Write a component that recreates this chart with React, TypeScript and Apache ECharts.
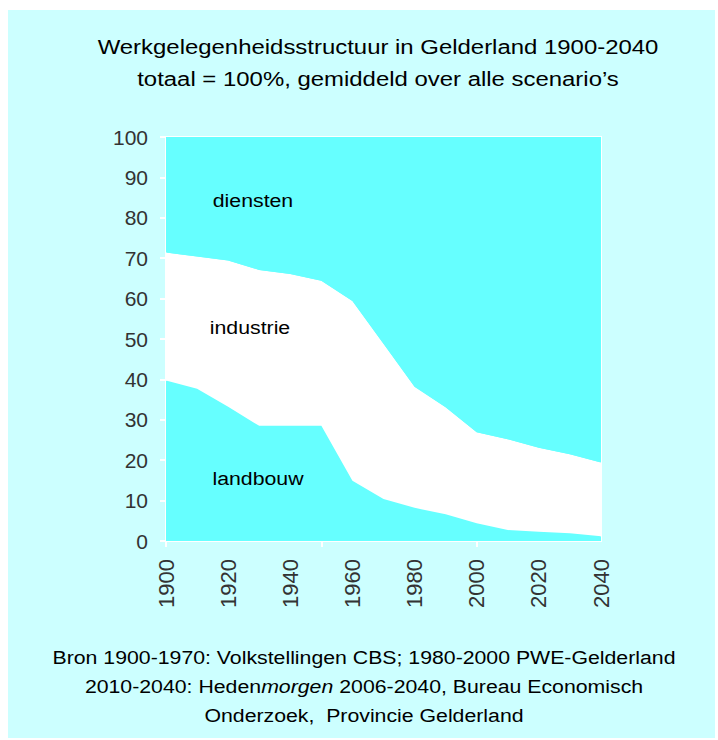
import React, { useEffect, useRef } from "react";
import * as echarts from "echarts";

const years = ["1900", "1910", "1920", "1930", "1940", "1950", "1960", "1970", "1980", "1990", "2000", "2010", "2020", "2030", "2040"];
const landbouw = [39.7, 37.7, 33.2, 28.5, 28.5, 28.5, 14.9, 10.4, 8.2, 6.6, 4.4, 2.7, 2.3, 1.9, 1.2];
const industrie = [31.7, 32.7, 36.2, 38.6, 37.6, 35.9, 44.5, 38.4, 30.0, 26.5, 22.5, 22.5, 20.8, 19.6, 18.2];
const diensten = [28.6, 29.6, 30.6, 32.9, 33.9, 35.6, 40.6, 51.2, 61.8, 66.9, 73.1, 74.8, 76.9, 78.5, 80.6];
const seriesNames = ["landbouw", "industrie", "diensten"];
const titleLines = ["Werkgelegenheidsstructuur in Gelderland 1900-2040", "totaal = 100%, gemiddeld over alle scenario\u2019s"];

const FONT = "'Liberation Sans', Arial, Helvetica, sans-serif";
const CYAN = "#66ffff";

export default function App() {
  const ref = useRef<HTMLDivElement>(null);
  useEffect(() => {
    document.body.style.margin = "0";
    if (!ref.current) return;
    const chart = echarts.init(ref.current, null, { renderer: "svg" });
    const mk = (name: string, data: number[], color: string) => ({
      name,
      type: "line",
      stack: "total",
      data,
      showSymbol: false,
      symbol: "none",
      lineStyle: { width: 0 },
      areaStyle: { color, opacity: 1 },
      silent: true,
    });
    const label = (text: string, x: number, y: number) => ({
      type: "text",
      x,
      y,
      scaleX: 1.12,
      z: 10,
      style: { text, font: `19px ${FONT}`, fill: "#000", align: "center", verticalAlign: "middle" },
    });
    chart.setOption({
      animation: false,
      backgroundColor: "transparent",
      grid: {
        left: 166,
        right: 117,
        top: 137,
        bottom: 199,
        show: true,
        backgroundColor: CYAN,
        borderColor: "#ffffff",
        borderWidth: 2,
      },
      xAxis: {
        type: "category",
        data: years,
        boundaryGap: false,
        axisLine: { show: true, lineStyle: { color: "#ffffff", width: 2 } },
        axisTick: {
          show: true,
          length: 6,
          lineStyle: { color: "#ffffff", width: 2 },
          interval: (i: number) => i % 5 === 0,
        },
        axisLabel: {
          rotate: 90,
          margin: 18,
          fontFamily: FONT,
          fontSize: 22,
          color: "#333333",
          interval: (i: number) => i % 2 === 0,
        },
        splitLine: { show: false },
      },
      yAxis: {
        type: "value",
        min: 0,
        max: 100,
        interval: 10,
        axisLine: { show: true, lineStyle: { color: "#ffffff", width: 2 } },
        axisTick: { show: true, length: 6, lineStyle: { color: "#ffffff", width: 2 } },
        axisLabel: { margin: 18, fontFamily: FONT, fontSize: 21, color: "#333333" },
        splitLine: { show: false },
      },
      series: [
        mk(seriesNames[0], landbouw, CYAN),
        mk(seriesNames[1], industrie, "#ffffff"),
        mk(seriesNames[2], diensten, CYAN),
      ],
      graphic: [
        {
          type: "text",
          x: 378,
          y: 31,
          scaleX: 1.14,
          z: 10,
          style: {
            text: titleLines.join("\n"),
            font: `21px ${FONT}`,
            lineHeight: 32,
            fill: "#000",
            align: "center",
            verticalAlign: "top",
          },
        },
        label(seriesNames[2], 253, 200),
        label(seriesNames[1], 250, 327),
        label(seriesNames[0], 258, 478),
        {
          type: "text",
          x: 364,
          y: 643,
          scaleX: 1.12,
          z: 10,
          style: {
            text: "{n|Bron 1900-1970: Volkstellingen CBS; 1980-2000 PWE-Gelderland}\n{n|2010-2040: Heden}{i|morgen}{n| 2006-2040, Bureau Economisch}\n{n|Onderzoek,  Provincie Gelderland}",
            align: "center",
            verticalAlign: "top",
            fill: "#000",
            rich: {
              n: { fontFamily: FONT, fontSize: 19, lineHeight: 29, color: "#000" },
              i: { fontFamily: FONT, fontSize: 19, lineHeight: 29, color: "#000", fontStyle: "italic" },
            },
          },
        },
      ],
    });
    return () => chart.dispose();
  }, []);
  return (
    <div style={{ position: "absolute", left: 0, top: 0, width: 718, height: 740, background: "#ffffff" }}>
      <div style={{ position: "absolute", left: 8, top: 10, width: 707, height: 728, background: "#ccffff" }} />
      <div ref={ref} style={{ position: "absolute", left: 0, top: 0, width: 718, height: 740 }} />
    </div>
  );
}
